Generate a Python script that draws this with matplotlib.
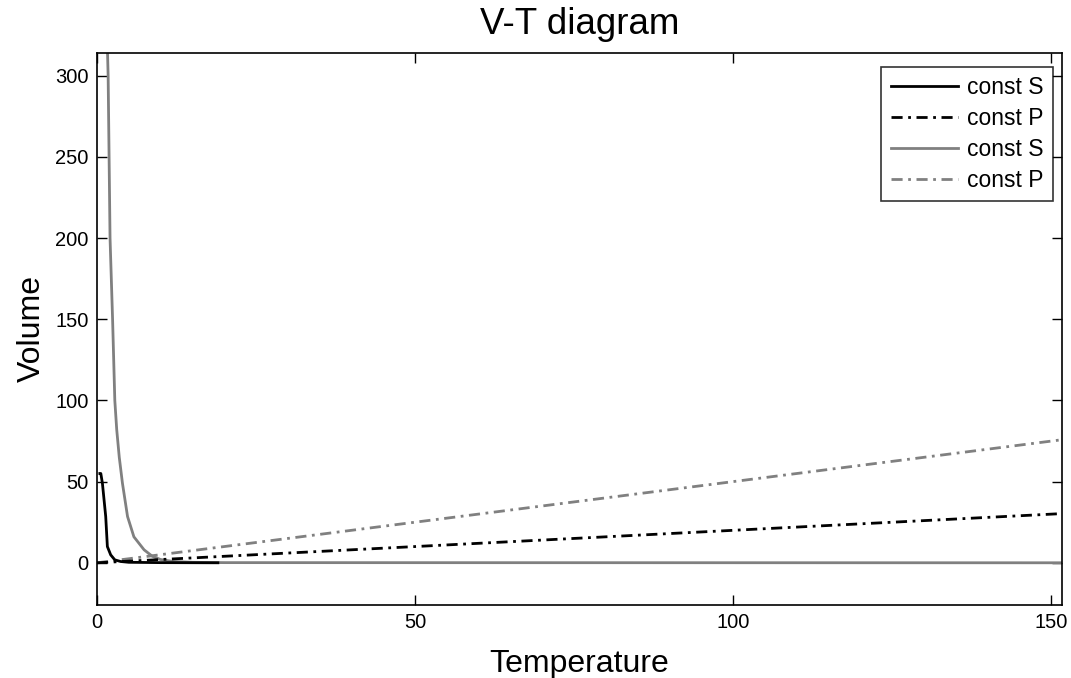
import matplotlib
matplotlib.use("Agg")
import matplotlib.pyplot as plt

plt.rcParams['font.family'] = ['Liberation Sans', 'DejaVu Sans']

# Data
T_S1 = [0.45, 0.6, 0.85, 1.37, 1.63, 2.15, 2.8, 3.7, 5.0, 10.0, 19.0]
V_S1 = [55.0, 55.0, 49.0, 28.5, 10.0, 4.9, 1.8, 0.8, 0.3, 0.1, 0.0]

T_P1 = [0.0, 50.0, 100.0, 151.7]
V_P1 = [0.0, 10.0, 20.0, 30.3]

T_S2 = [1.55, 1.75, 2.05, 2.45, 2.8, 3.1, 3.5, 4.0, 4.8, 5.8, 7.4, 8.7, 10.0, 12.0, 15.0, 20.0, 151.7]
V_S2 = [330.0, 300.0, 200.0, 150.0, 100.0, 82.0, 65.0, 49.0, 28.5, 16.0, 8.0, 4.0, 2.0, 0.8, 0.3, 0.1, 0.0]

T_P2 = [0.0, 50.0, 100.0, 151.7]
V_P2 = [0.0, 25.0, 50.0, 75.8]

labels = ["const S", "const P", "const S", "const P"]
x_ticks = [0, 50, 100, 150]
y_ticks = [0, 50, 100, 150, 200, 250, 300]

fig = plt.figure(figsize=(10.71, 6.78), dpi=100)
ax = fig.add_axes([97/1071, 73/678, (1062-97)/1071, (605-53)/678])

gray = '#808080'
dd = (4, 2, 1, 2)
lw = 2.0
ax.plot(T_S1, V_S1, color='black', lw=lw, label=labels[0], zorder=4)
ax.plot(T_P1, V_P1, color='black', lw=lw, dashes=dd, label=labels[1], zorder=3)
ax.plot(T_S2, V_S2, color=gray, lw=lw, label=labels[2], zorder=2)
ax.plot(T_P2, V_P2, color=gray, lw=lw, dashes=dd, label=labels[3], zorder=2)

ax.set_xlim(0, 151.7)
ax.set_ylim(-26, 314)
ax.set_xticks(x_ticks)
ax.set_yticks(y_ticks)
ax.tick_params(direction='in', length=7, width=1, top=True, right=True,
               labelsize=14.5, pad=6)
for s in ax.spines.values():
    s.set_linewidth(1.2)

ax.set_title("V-T diagram", fontsize=26.5, pad=14)
ax.set_xlabel("Temperature", fontsize=23, labelpad=12)
ax.set_ylabel("Volume", fontsize=23, labelpad=6)

leg = ax.legend(loc='upper right', fontsize=16.5, handlelength=2.95,
                frameon=True, fancybox=False, edgecolor='black',
                bbox_to_anchor=(1 - 9/965, 1 - 14/552),
                borderaxespad=0.0, labelspacing=0.34, handletextpad=0.4,
                borderpad=0.4)
leg.get_frame().set_linewidth(1.2)

fig.savefig("out.png", dpi=100)
